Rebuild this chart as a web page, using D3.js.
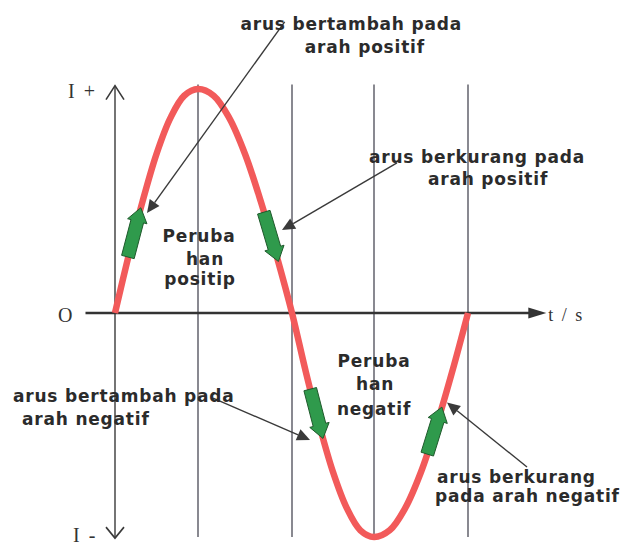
<!DOCTYPE html>
<html>
<head>
<meta charset="utf-8">
<script src="https://cdn.jsdelivr.net/npm/d3@7"></script>
<style>
  body { margin: 0; background: #fff; }
  svg { display: block; }
  .note { font-family: "DejaVu Sans", sans-serif; font-weight: bold; font-size: 17px; letter-spacing: 0.8px; fill: #2b2b2b; }
  .axisLabel { font-family: "Liberation Serif", serif; font-size: 20px; letter-spacing: 2px; fill: #333; }
</style>
</head>
<body>
<div id="chart"></div>
<script>
// phase angle in degrees, and current (I / Imax)
const phase = [0, 15, 30, 45, 60, 75, 90, 105, 120, 135, 150, 165, 180,
               195, 210, 225, 240, 255, 270, 285, 300, 315, 330, 345, 360];
const current = [0, 0.26, 0.5, 0.71, 0.87, 0.97, 1, 0.97, 0.87, 0.71, 0.5, 0.26, 0,
                 -0.26, -0.5, -0.71, -0.87, -0.97, -1, -0.97, -0.87, -0.71, -0.5, -0.26, 0];

// quarter lines (degrees)
const quarterLines = [0, 90, 180, 270, 360];

// green direction arrows: [phase, current] from tail to tip
const flowArrows = [
  [[14, 0.25], [28, 0.47]],
  [[153, 0.45], [167, 0.23]],
  [[200, -0.34], [214, -0.56]],
  [[321, -0.63], [335, -0.42]]
];

// annotation pointers: from text to curve
const pointers = [
  [[173, 1.30], [34.7, 0.446]],
  [[292, 0.67], [170.4, 0.37]],
  [[104.4, -0.38], [199.8, -0.567]],
  [[416.5, -0.6875], [339.9, -0.40]]
];

// text notes: text, phase, current, anchor
const notes = [
  ["arus bertambah pada", 245, 1.263, "middle"],
  ["arah positif", 260, 1.161, "middle"],
  ["arus berkurang pada", 368.6, 0.67, "middle"],
  ["arah positif", 379.2, 0.571, "middle"],
  ["Peruba", 91, 0.317, "middle"],
  ["han", 96.7, 0.214, "middle"],
  ["positip", 91.9, 0.125, "middle"],
  ["arus bertambah pada", -110.6, -0.397, "start"],
  ["arah negatif", -100.8, -0.5, "start"],
  ["Peruba", 270, -0.241, "middle"],
  ["han", 271, -0.344, "middle"],
  ["negatif", 270, -0.455, "middle"],
  ["arus berkurang", 330.3, -0.759, "start"],
  ["pada arah negatif", 328.4, -0.844, "start"]
];

let width = 624, height = 545;

let svg = d3.select("#chart")
    .append("svg")
    .attr("width", width)
    .attr("height", height);

// set the ranges (the drawing is not quite evenly spaced)
let x = d3.scaleLinear().domain([0, 90, 180, 270, 360]).range([115, 198, 292, 374, 468]);
let y = d3.scaleLinear().domain([-1, 1]).range([537, 89]);

let ink = "#3a3a3a";

// quarter lines
svg.selectAll(".qline")
    .data(quarterLines.slice(1))
    .enter().append("line")
    .attr("x1", d => x(d)).attr("x2", d => x(d))
    .attr("y1", y(1.02)).attr("y2", y(-1))
    .attr("stroke", "#4a4a55")
    .attr("stroke-width", 1.3);

// Y axis with open arrow heads
svg.append("line")
    .attr("x1", x(0)).attr("x2", x(0))
    .attr("y1", y(1.015)).attr("y2", y(-1.005))
    .attr("stroke", ink).attr("stroke-width", 1.4);
svg.append("path")
    .attr("d", "M" + (x(0) - 9) + "," + (y(1.015) + 14) + "L" + x(0) + "," + y(1.015) + "L" + (x(0) + 9) + "," + (y(1.015) + 14))
    .attr("fill", "none").attr("stroke", ink).attr("stroke-width", 1.6);
svg.append("path")
    .attr("d", "M" + (x(0) - 9) + "," + (y(-1.005) - 11) + "L" + x(0) + "," + y(-1.005) + "L" + (x(0) + 9) + "," + (y(-1.005) - 11))
    .attr("fill", "none").attr("stroke", ink).attr("stroke-width", 1.6);

// X axis (time)
let xEnd = x(435);
svg.append("line")
    .attr("x1", x(-32)).attr("x2", xEnd - 12)
    .attr("y1", y(0)).attr("y2", y(0))
    .attr("stroke", "#333").attr("stroke-width", 2.6);
svg.append("path")
    .attr("d", "M" + xEnd + "," + y(0) + "L" + (xEnd - 18) + "," + (y(0) - 5.5) + "L" + (xEnd - 18) + "," + (y(0) + 5.5) + "Z")
    .attr("fill", "#333");

// sine curve
let valueline = d3.line()
    .x((d, i) => x(phase[i]))
    .y(d => y(d))
    .curve(d3.curveCatmullRom);
svg.append("path")
    .datum(current)
    .attr("fill", "none")
    .attr("stroke", "#f25a5a")
    .attr("stroke-width", 6.5)
    .attr("d", valueline);

// green block arrows
function blockArrow(p0, p1, bw, hw, hl) {
    let dx = p1[0] - p0[0], dy = p1[1] - p0[1];
    let len = Math.sqrt(dx * dx + dy * dy);
    let ux = dx / len, uy = dy / len, nx = -uy, ny = ux;
    let hx = p1[0] - ux * hl, hy = p1[1] - uy * hl;
    let pts = [
        [p0[0] + nx * bw, p0[1] + ny * bw],
        [hx + nx * bw, hy + ny * bw],
        [hx + nx * hw, hy + ny * hw],
        [p1[0], p1[1]],
        [hx - nx * hw, hy - ny * hw],
        [hx - nx * bw, hy - ny * bw],
        [p0[0] - nx * bw, p0[1] - ny * bw]
    ];
    return "M" + pts.map(p => p.join(",")).join("L") + "Z";
}
svg.selectAll(".flow")
    .data(flowArrows)
    .enter().append("path")
    .attr("d", d => blockArrow([x(d[0][0]), y(d[0][1])], [x(d[1][0]), y(d[1][1])], 6.5, 10, 14))
    .attr("fill", "#2f9a4c")
    .attr("stroke", "#1f5a2c")
    .attr("stroke-width", 1);

// annotation pointers with filled heads
pointers.forEach(function(d) {
    let x0 = x(d[0][0]), y0 = y(d[0][1]), x1 = x(d[1][0]), y1 = y(d[1][1]);
    let ang = Math.atan2(y1 - y0, x1 - x0);
    let hl = 13, hw = 6;
    let bx = x1 - Math.cos(ang) * hl, by = y1 - Math.sin(ang) * hl;
    svg.append("line")
        .attr("x1", x0).attr("y1", y0).attr("x2", bx).attr("y2", by)
        .attr("stroke", "#3a3a3a").attr("stroke-width", 1.4);
    svg.append("path")
        .attr("d", "M" + x1 + "," + y1 +
            "L" + (bx - Math.sin(ang) * hw) + "," + (by + Math.cos(ang) * hw) +
            "L" + (bx + Math.sin(ang) * hw) + "," + (by - Math.cos(ang) * hw) + "Z")
        .attr("fill", "#3a3a3a");
});

// notes
svg.selectAll(".note")
    .data(notes)
    .enter().append("text")
    .attr("class", "note")
    .attr("x", d => x(d[1]))
    .attr("y", d => y(d[2]))
    .attr("text-anchor", d => d[3])
    .text(d => d[0]);

// axis labels
svg.append("text").attr("class", "axisLabel")
    .attr("x", x(0) - 47).attr("y", y(1) + 9).text("I +");
svg.append("text").attr("class", "axisLabel")
    .attr("x", x(0) - 42).attr("y", y(-1) + 5).text("I -");
svg.append("text").attr("class", "axisLabel")
    .attr("x", x(-54)).attr("y", y(0) + 9).attr("text-anchor", "middle").style("letter-spacing", "0px").text("O");
svg.append("text").attr("class", "axisLabel")
    .attr("x", xEnd + 2).attr("y", y(0) + 8).style("font-size", "18px").text("t / s");
</script>
</body>
</html>
